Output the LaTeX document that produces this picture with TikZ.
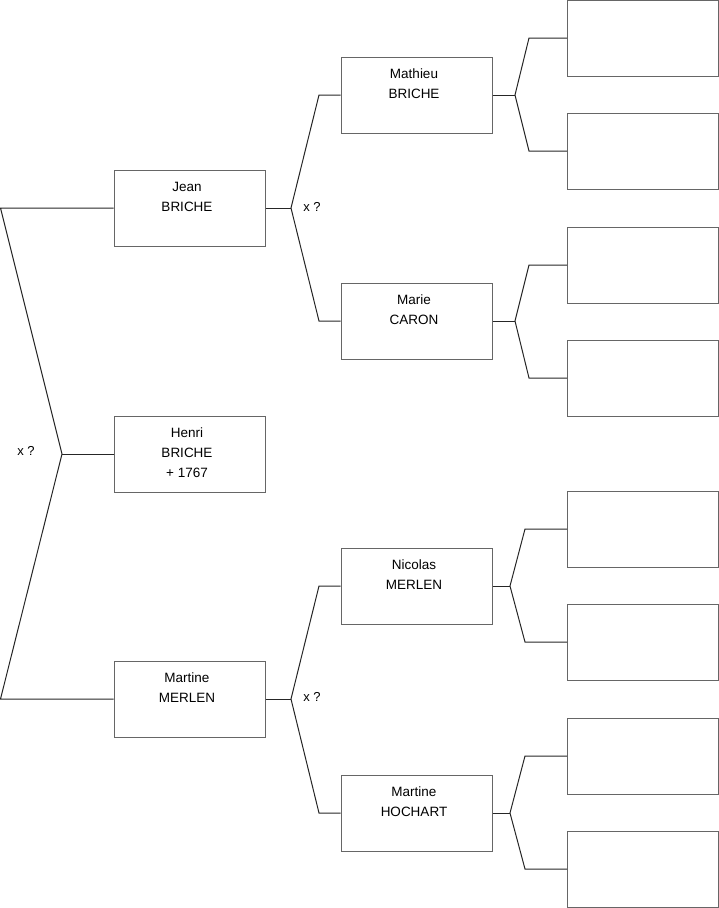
\documentclass[tikz,border=0pt]{standalone}
\usepackage{fontspec}
\setmainfont{Liberation Sans}
\newcommand\pname[3]{\mbox{#1\kern5pt}\\\mbox{#2\kern5pt}\\\mbox{#3\kern5pt\rule[-2pt]{0pt}{2pt}}}
\begin{document}
\begin{tikzpicture}[x=1pt,y=-1pt,
  person/.style={draw=black!60,line width=1pt,minimum width=151pt,minimum height=76pt,inner sep=0pt,align=center,font=\fontsize{13.5}{20}\selectfont},
  conn/.style={draw=black!85,line width=1pt},
  lab/.style={font=\fontsize{13}{14}\selectfont,inner sep=0pt}]
\useasboundingbox (0,0) rectangle (719,908);
% persons
\node[person] (jean) at (189.5,208) {\pname{Jean}{BRICHE}{}};
\node[person] (henri) at (189.5,454) {\pname{Henri}{BRICHE}{+ 1767}};
\node[person] (martine) at (189.5,699) {\pname{Martine}{MERLEN}{}};
\node[person] (mathieu) at (416.5,95) {\pname{Mathieu}{BRICHE}{}};
\node[person] (marie) at (416.5,321) {\pname{Marie}{CARON}{}};
\node[person] (nicolas) at (416.5,586) {\pname{Nicolas}{MERLEN}{}};
\node[person] (hochart) at (416.5,813) {\pname{Martine}{HOCHART}{}};
% empty
\node[person] (e1) at (643,38) {};
\node[person] (e2) at (643,151) {};
\node[person] (e3) at (643,265) {};
\node[person] (e4) at (643,378) {};
\node[person] (e5) at (643,529) {};
\node[person] (e6) at (643,642) {};
\node[person] (e7) at (643,756) {};
\node[person] (e8) at (643,869) {};
% left bracket
\coordinate (a1) at (0.5,208);
\coordinate (a2) at (62,454);
\coordinate (a3) at (0.5,699);
\draw[conn] (jean.west) -- (a1) -- (a2) -- (a3) -- (martine.west);
\draw[conn] (a2) -- (henri.west);
\node[lab] (x1) at (26,451) {x ?};
% Jean bracket
\coordinate (b0) at (291,208);
\coordinate (b1) at (319,95);
\coordinate (b2) at (319,321);
\draw[conn] (jean.east) -- (b0);
\draw[conn] (mathieu.west) -- (b1) -- (b0) -- (b2) -- (marie.west);
\node[lab] (x2) at (312,207) {x ?};
% Martine bracket
\coordinate (c0) at (291,699);
\coordinate (c1) at (319,586);
\coordinate (c2) at (319,813);
\draw[conn] (martine.east) -- (c0);
\draw[conn] (nicolas.west) -- (c1) -- (c0) -- (c2) -- (hochart.west);
\node[lab] (x3) at (312,697) {x ?};
% Mathieu bracket
\coordinate (d0) at (515,95);
\coordinate (d1) at (529,38);
\coordinate (d2) at (529,151);
\draw[conn] (mathieu.east) -- (d0);
\draw[conn] (e1.west) -- (d1) -- (d0) -- (d2) -- (e2.west);
% Marie bracket
\coordinate (f0) at (515,321);
\coordinate (f1) at (529,265);
\coordinate (f2) at (529,378);
\draw[conn] (marie.east) -- (f0);
\draw[conn] (e3.west) -- (f1) -- (f0) -- (f2) -- (e4.west);
% Nicolas bracket
\coordinate (g0) at (510,586);
\coordinate (g1) at (525,529);
\coordinate (g2) at (525,642);
\draw[conn] (nicolas.east) -- (g0);
\draw[conn] (e5.west) -- (g1) -- (g0) -- (g2) -- (e6.west);
% Hochart bracket
\coordinate (h0) at (510,813);
\coordinate (h1) at (525,756);
\coordinate (h2) at (525,869);
\draw[conn] (hochart.east) -- (h0);
\draw[conn] (e7.west) -- (h1) -- (h0) -- (h2) -- (e8.west);
\end{tikzpicture}
\end{document}
